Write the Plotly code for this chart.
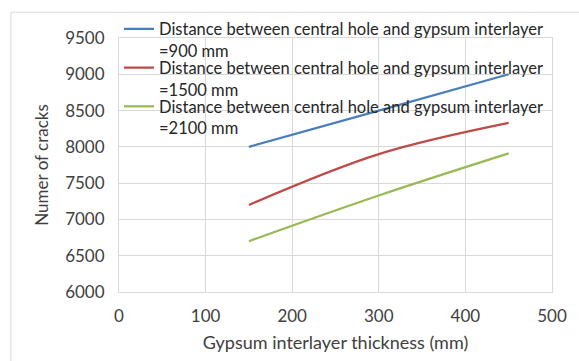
import plotly.graph_objects as go

thickness = [150, 300, 450]
cracks_900 = [8000, 8500, 9000]
cracks_1500 = [7200, 7900, 8330]
cracks_2100 = [6700, 7330, 7910]
names = [
    "Distance between central hole and gypsum interlayer<br>=900 mm",
    "Distance between central hole and gypsum interlayer<br>=1500 mm",
    "Distance between central hole and gypsum interlayer<br>=2100 mm",
]
colors = ["#4A7EBB", "#BE4B48", "#98B954"]
x_ticks = [0, 100, 200, 300, 400, 500]
y_ticks = [6000, 6500, 7000, 7500, 8000, 8500, 9000, 9500]

FONT = "Lato"
L, R, T, B = 119, 23, 36, 69
W, H = 579, 361
pw, ph = W - L - R, H - T - B


def px(xp):
    return (xp - L) / pw


def py(yp):
    return (H - B - yp) / ph


legend_ids = ["legend", "legend2", "legend3"]
legend_tops = [9.5, 48.5, 87.5]

fig = go.Figure()
for ys, nm, c, lg in zip([cracks_900, cracks_1500, cracks_2100], names, colors, legend_ids):
    fig.add_trace(go.Scatter(x=thickness, y=ys, name=nm, mode="lines", legend=lg,
                             line=dict(color=c, width=2.25, shape="spline", smoothing=1)))

leg_common = dict(xanchor="left", yanchor="top", bgcolor="rgba(0,0,0,0)",
                  valign="top", tracegroupgap=0,
                  font=dict(family=FONT, size=16.5, color="#262626"))
legends = {lg: dict(x=px(119), y=py(top), **leg_common)
           for lg, top in zip(legend_ids, legend_tops)}

fig.update_layout(
    width=W, height=H,
    margin=dict(l=L, r=R, t=T, b=B, pad=0),
    paper_bgcolor="white", plot_bgcolor="white",
    font=dict(family=FONT, size=17, color="#404040"),
    showlegend=True,
    **legends,
    xaxis=dict(range=[0, 500], tickvals=x_ticks, showgrid=True, gridcolor="#D9D9D9",
               gridwidth=1, zeroline=False, showline=True, linecolor="#D9D9D9",
               ticks="", ticklabelstandoff=9,
               tickfont=dict(family=FONT, size=17, color="#404040"),
               title=dict(text="Gypsum interlayer thickness (mm)", standoff=10,
                          font=dict(family=FONT, size=18, color="#404040")),
               mirror=True),
    yaxis=dict(range=[6000, 9500], tickvals=y_ticks, showgrid=True, gridcolor="#D9D9D9",
               gridwidth=1, zeroline=False, showline=True, linecolor="#D9D9D9",
               ticks="", ticklabelstandoff=10,
               tickfont=dict(family=FONT, size=17, color="#404040"),
               title=dict(text="Numer of cracks", standoff=12,
                          font=dict(family=FONT, size=17, color="#404040")),
               mirror=True),
    shapes=[dict(type="rect", xref="paper", yref="paper",
                 x0=px(10), x1=px(600), y0=py(380), y1=py(10),
                 line=dict(color="#D9D9D9", width=1), fillcolor="rgba(0,0,0,0)",
                 layer="below")],
)
fig.write_html("out.html")
